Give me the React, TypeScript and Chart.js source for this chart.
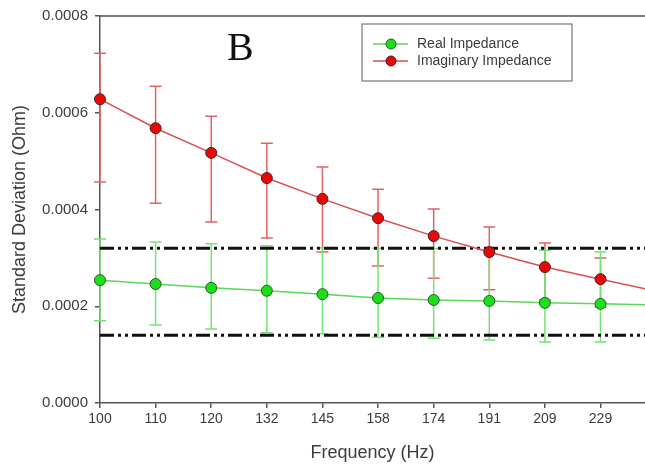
import React, { useEffect, useRef } from "react";
import { Chart, registerables } from "chart.js";

Chart.register(...registerables);

const categories = ["100", "110", "120", "132", "145", "158", "174", "191", "209", "229"];
const realMean = [0.000254, 0.000246, 0.000238, 0.000232, 0.000225, 0.000217, 0.000213, 0.000211, 0.000207, 0.000205];
const realUpper = [0.000339, 0.000333, 0.000329, 0.000325, 0.000321, 0.00032, 0.000319, 0.000318, 0.000316, 0.000312];
const realLower = [0.00017, 0.000161, 0.000153, 0.000145, 0.000143, 0.000136, 0.000134, 0.00013, 0.000126, 0.000126];
const imagMean = [0.000628, 0.000568, 0.000517, 0.000465, 0.000422, 0.000382, 0.000345, 0.000312, 0.000281, 0.000256];
const imagUpper = [0.000723, 0.000655, 0.000593, 0.000537, 0.000488, 0.000442, 0.000401, 0.000364, 0.000331, 0.0003];
const imagLower = [0.000457, 0.000413, 0.000374, 0.000341, 0.000312, 0.000283, 0.000258, 0.000234, 0.000213, 0.000198];
// values of the next (off-axis) frequency, where the lines continue past the right edge
const realTail = 0.0002025;
const imagTail = 0.000231;
const upperLimit = 0.00032;
const lowerLimit = 0.00014;
const yTicks = [0, 0.0002, 0.0004, 0.0006, 0.0008];
const xMax = 9.8;

const GREEN_LINE = "#5cd65c";
const GREEN_BAR = "#74e474";
const GREEN_FILL = "#19e019";
const GREEN_EDGE = "#2c5a2c";
const RED_LINE = "#d85050";
const RED_BAR = "#e06464";
const RED_FILL = "#e80808";
const RED_EDGE = "#4a2222";
const TEXT = "#3c3c3c";
const FONT = "'Liberation Sans', Arial, sans-serif";

const toPoints = (vals: number[], tail: number) =>
  [...vals, tail].map((v, i) => ({ x: i, y: v }));

const errorBars = {
  id: "errorBars",
  beforeDatasetsDraw(chart: any) {
    const { ctx, chartArea, scales } = chart;
    const x = scales.x;
    const y = scales.y;
    ctx.save();
    const draw = (upper: number[], lower: number[], color: string) => {
      ctx.strokeStyle = color;
      ctx.lineWidth = 1.5;
      upper.forEach((u, i) => {
        const px = x.getPixelForValue(i);
        const pu = y.getPixelForValue(u);
        const pl = y.getPixelForValue(lower[i]);
        ctx.beginPath();
        ctx.moveTo(px, pu);
        ctx.lineTo(px, pl);
        ctx.moveTo(px - 6, pu);
        ctx.lineTo(px + 6, pu);
        ctx.moveTo(px - 6, pl);
        ctx.lineTo(px + 6, pl);
        ctx.stroke();
      });
    };
    draw(imagUpper, imagLower, RED_BAR);
    draw(realUpper, realLower, GREEN_BAR);
    ctx.restore();
    // top frame line
    ctx.save();
    ctx.strokeStyle = "#555";
    ctx.lineWidth = 1.5;
    ctx.beginPath();
    ctx.moveTo(chartArea.left, chartArea.top);
    ctx.lineTo(chartArea.right, chartArea.top);
    ctx.stroke();
    ctx.restore();
  },
};

const overlay = {
  id: "overlay",
  afterDraw(chart: any) {
    const { ctx } = chart;
    ctx.save();
    // panel letter
    ctx.fillStyle = "#111";
    ctx.font = "40px 'Liberation Serif', 'Times New Roman', serif";
    ctx.textBaseline = "alphabetic";
    ctx.textAlign = "left";
    ctx.fillText("B", 227, 60);
    // legend box
    ctx.strokeStyle = "#777";
    ctx.lineWidth = 1.2;
    ctx.strokeRect(362, 24, 210, 57);
    const rows = [
      { label: "Real Impedance", line: GREEN_LINE, fill: GREEN_FILL, edge: GREEN_EDGE, y: 44 },
      { label: "Imaginary Impedance", line: RED_LINE, fill: RED_FILL, edge: RED_EDGE, y: 61 },
    ];
    rows.forEach((r) => {
      ctx.strokeStyle = r.line;
      ctx.lineWidth = 1.5;
      ctx.beginPath();
      ctx.moveTo(373, r.y);
      ctx.lineTo(408, r.y);
      ctx.stroke();
      ctx.beginPath();
      ctx.arc(391, r.y, 5, 0, Math.PI * 2);
      ctx.fillStyle = r.fill;
      ctx.fill();
      ctx.strokeStyle = r.edge;
      ctx.lineWidth = 1;
      ctx.stroke();
      ctx.fillStyle = TEXT;
      ctx.font = `14px ${FONT}`;
      ctx.textBaseline = "middle";
      ctx.fillText(r.label, 417, r.y);
    });
    ctx.restore();
  },
};

export default function App() {
  const ref = useRef<HTMLCanvasElement | null>(null);
  useEffect(() => {
    if (!ref.current) return;
    const n = realMean.length;
    const radii = [...Array(n).fill(5.5), 0];
    const chart = new Chart(ref.current, {
      type: "line",
      data: {
        datasets: [
          {
            label: "Real Impedance",
            data: toPoints(realMean, realTail),
            borderColor: GREEN_LINE,
            borderWidth: 1.5,
            backgroundColor: GREEN_FILL,
            pointBackgroundColor: GREEN_FILL,
            pointBorderColor: GREEN_EDGE,
            pointBorderWidth: 1,
            pointRadius: radii,
            clip: false,
            order: 2,
          },
          {
            label: "Imaginary Impedance",
            data: toPoints(imagMean, imagTail),
            borderColor: RED_LINE,
            borderWidth: 1.5,
            backgroundColor: RED_FILL,
            pointBackgroundColor: RED_FILL,
            pointBorderColor: RED_EDGE,
            pointBorderWidth: 1,
            pointRadius: radii,
            clip: false,
            order: 1,
          },
          {
            label: "upper",
            data: [{ x: 0, y: upperLimit }, { x: xMax, y: upperLimit }],
            borderColor: "#111",
            borderWidth: 3,
            borderDash: [14, 4, 3, 4, 3, 4],
            pointRadius: 0,
            order: 3,
          },
          {
            label: "lower",
            data: [{ x: 0, y: lowerLimit }, { x: xMax, y: lowerLimit }],
            borderColor: "#111",
            borderWidth: 3,
            borderDash: [14, 4, 3, 4, 3, 4],
            pointRadius: 0,
            order: 3,
          },
        ],
      },
      options: {
        responsive: false,
        animation: false,
        layout: { autoPadding: false, padding: { top: 16, right: 0, left: 0, bottom: 0 } },
        plugins: { legend: { display: false }, tooltip: { enabled: false } },
        scales: {
          x: {
            type: "linear",
            min: 0,
            max: xMax,
            afterBuildTicks: (s: any) => {
              s.ticks = categories.map((_, i) => ({ value: i }));
            },
            afterFit: (s: any) => {
              s.height = 61;
              s.paddingRight = 0;
              s.paddingLeft = 0;
            },
            ticks: {
              callback: (v: any) => categories[Math.round(Number(v))] ?? "",
              color: TEXT,
              font: { size: 14, family: FONT },
              padding: 3,
              maxRotation: 0,
              autoSkip: false,
            },
            grid: { drawOnChartArea: false, drawTicks: true, tickLength: 5, color: "#555", lineWidth: 1.5 },
            border: { display: true, color: "#555", width: 1.5 },
            title: {
              display: true,
              text: "Frequency (Hz)",
              color: TEXT,
              font: { size: 18, family: FONT },
              padding: { top: 0, bottom: 0 },
            },
          },
          y: {
            type: "linear",
            min: 0,
            max: 0.0008,
            afterBuildTicks: (s: any) => {
              s.ticks = yTicks.map((v) => ({ value: v }));
            },
            afterFit: (s: any) => {
              s.width = 100;
              s.paddingTop = 0;
              s.paddingBottom = 0;
            },
            ticks: {
              callback: (v: any) => Number(v).toFixed(4),
              color: TEXT,
              font: { size: 15, family: FONT },
              padding: 7,
            },
            grid: { drawOnChartArea: false, drawTicks: true, tickLength: 5, color: "#555", lineWidth: 1.5 },
            border: { display: true, color: "#555", width: 1.5 },
            title: {
              display: true,
              text: "Standard Deviation (Ohm)",
              color: TEXT,
              font: { size: 18, family: FONT },
              padding: { top: 9, bottom: 0 },
            },
          },
        },
      },
      plugins: [errorBars, overlay],
    });
    return () => chart.destroy();
  }, []);
  return (
    <div style={{ position: "absolute", left: 0, top: 0, width: 645, height: 464, background: "#fff", overflow: "hidden" }}>
      <canvas ref={ref} width={645} height={464} />
    </div>
  );
}
